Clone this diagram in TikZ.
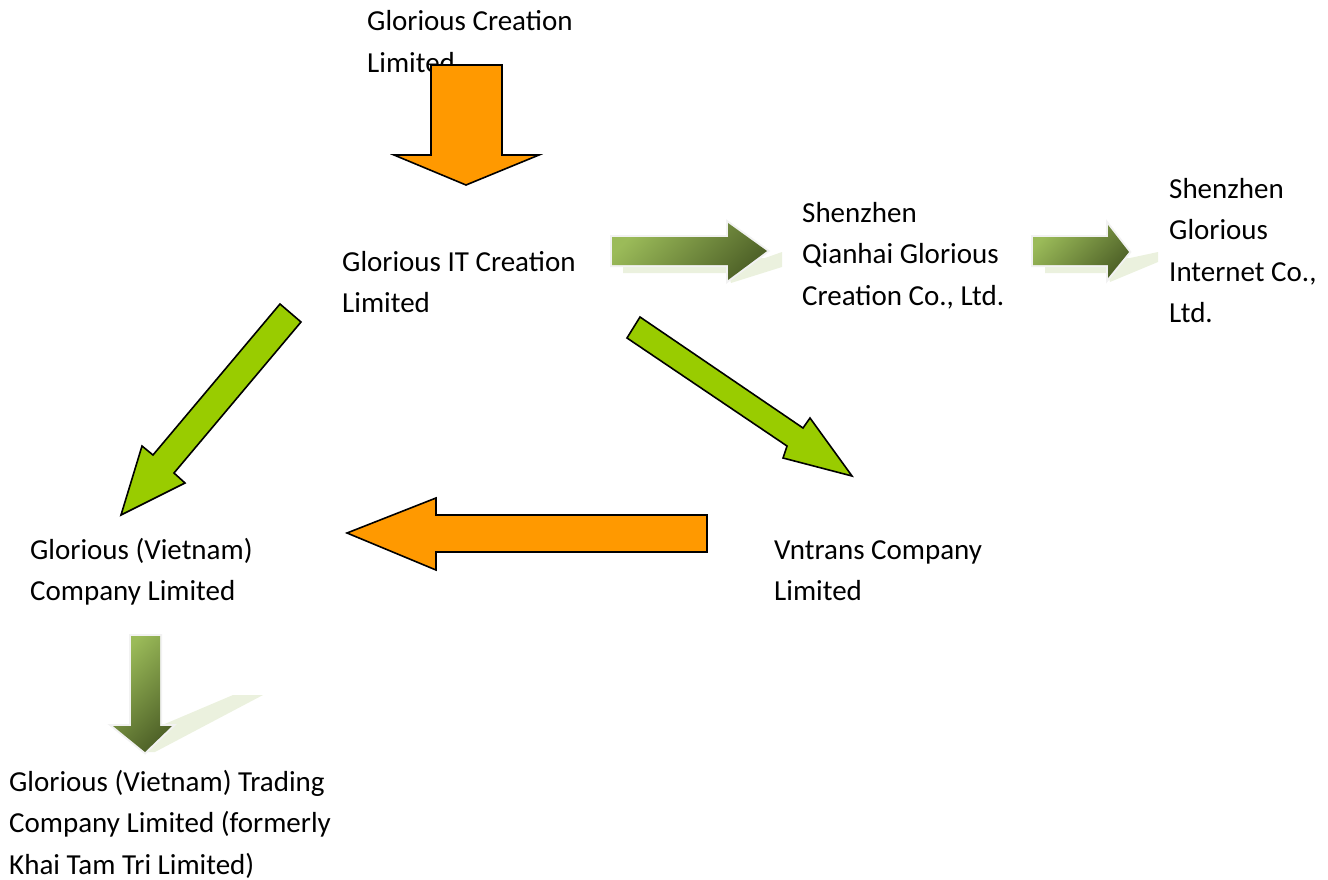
\documentclass[tikz,border=0pt]{standalone}
\usepackage{fontspec}
\setmainfont{Carlito}
\definecolor{orangefill}{HTML}{FF9900}
\definecolor{greenfill}{HTML}{99CC00}
\definecolor{gradlight}{HTML}{9BBB59}
\definecolor{graddark}{HTML}{4F6228}
\definecolor{glowgray}{HTML}{F2F2F2}
\definecolor{shadowgreen}{HTML}{EBF1DE}
\begin{document}
\begin{tikzpicture}[x=1pt,y=-1pt,
  lbl/.style={anchor=base west, inner sep=0pt, align=left, font=\fontsize{29}{41.5}\selectfont},
  orangearrow/.style={fill=orangefill, draw=black, line width=1.6pt, line join=miter},
  greenarrow/.style={fill=greenfill, draw=black, line width=1.6pt, line join=miter},
  gradarrow/.style={shading=axis, top color=gradlight, bottom color=graddark, shading angle=45},
  glow/.style={draw=glowgray, line width=4pt, line join=miter},
  shadowfill/.style={fill=shadowgreen}]
\useasboundingbox (0,0) rectangle (1328,880);

% texts (anchored at the baseline of the last line)
\node[lbl] (gcl) at (367,72.5) {Glorious Creation\\Limited};
\node[lbl] (gitc) at (342,312.5) {Glorious IT Creation\\Limited};
\node[lbl] (sqg) at (802,305) {Shenzhen\\Qianhai Glorious\\Creation Co., Ltd.};
\node[lbl] (sgi) at (1169,322.5) {Shenzhen\\Glorious\\Internet Co.,\\Ltd.};
\node[lbl] (gvc) at (30,600.5) {Glorious (Vietnam)\\Company Limited};
\node[lbl] (vnt) at (774,600.5) {Vntrans Company\\Limited};
\node[lbl] (gvt) at (9,874) {Glorious (Vietnam) Trading\\Company Limited (formerly\\Khai Tam Tri Limited)};

% top orange arrow (down)
\draw[orangearrow] (431,65) -- (502,65) -- (502,155) -- (539,155) -- (466,185)
  -- (394,155) -- (431,155) -- cycle;

% left orange arrow
\draw[orangearrow] (707,515) -- (436,515) -- (436,498) -- (347,533) -- (436,570)
  -- (436,552) -- (707,552) -- cycle;

% green arrow down-left
\draw[greenarrow] (280,304) -- (301,322) -- (174,473) -- (185,483) -- (121,515)
  -- (142,446) -- (153,455) -- cycle;

% green arrow down-right
\draw[greenarrow] (640,317) -- (803,428) -- (810,418) -- (852,476) -- (783,458)
  -- (787,446) -- (627,338) -- cycle;

% gradient arrow 1 (right)
\fill[shadowfill] (623,266) -- (623,273) -- (728,273) -- (731,283) -- (782,267)
  -- (782,252) -- (765,258) -- cycle;
\draw[glow] (612,237) -- (728,237) -- (728,223) -- (767,251) -- (728,280)
  -- (728,265) -- (612,265) -- cycle;
\shade[gradarrow] (612,237) -- (728,237) -- (728,223) -- (767,251) -- (728,280)
  -- (728,265) -- (612,265) -- cycle;

% gradient arrow 2 (right)
\fill[shadowfill] (1045,265) -- (1045,273) -- (1108,273) -- (1110,282) -- (1158,262)
  -- (1158,252) -- (1130,258) -- cycle;
\draw[glow] (1033,237) -- (1108,237) -- (1108,225) -- (1129,252) -- (1108,278)
  -- (1108,265) -- (1033,265) -- cycle;
\shade[gradarrow] (1033,237) -- (1108,237) -- (1108,225) -- (1129,252) -- (1108,278)
  -- (1108,265) -- (1033,265) -- cycle;

% gradient arrow 3 (down)
\fill[shadowfill] (160,726) -- (233,695) -- (263,695) -- (155,752) -- (145,752) -- cycle;
\draw[glow] (131,636) -- (160,636) -- (160,726) -- (172,726) -- (145,752) -- (113,726)
  -- (131,726) -- cycle;
\shade[gradarrow] (131,636) -- (160,636) -- (160,726) -- (172,726) -- (145,752) -- (113,726)
  -- (131,726) -- cycle;
\end{tikzpicture}
\end{document}
